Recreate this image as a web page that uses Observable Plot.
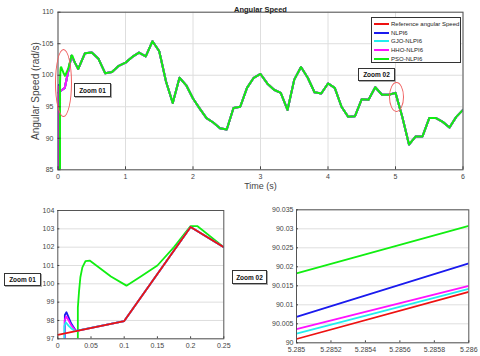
<!DOCTYPE html>
<html>
<head>
<meta charset="utf-8">
<script src="https://cdn.jsdelivr.net/npm/d3@7"></script>
<script src="https://cdn.jsdelivr.net/npm/@observablehq/plot@0.6"></script>
<style>
  body { margin: 0; background: #fff; }
  #c { position: relative; width: 480px; height: 356px; background: #fff; overflow: hidden; font-family: "Liberation Sans", Arial, sans-serif; }
  .box { position: absolute; background: #fff; border: 1px solid #333; box-shadow: 1px 1px 0 #aaa; font-weight: bold; font-size: 6.5px; color: #111; display: flex; align-items: center; justify-content: center; box-sizing: border-box; }
  .ell { position: absolute; border: 1px solid #f06060; border-radius: 50%; box-sizing: border-box; }
  #legend { position: absolute; left: 371px; top: 17px; width: 90px; height: 46px; border: 1px solid #333; background: #fff; box-sizing: border-box; padding-top: 2px; }
  #legend .row { display: flex; align-items: center; height: 8.6px; font-size: 6px; color: #222; }
  #legend .sw { width: 15px; height: 2px; margin: 0 2px 0 2px; }
</style>
</head>
<body>
<div id="c"></div>
<script>
// ---------- data ----------
const seriesNames = ["Reference angular Speed", "NLPI6", "GJO-NLPI6", "HHO-NLPI6", "PSO-NLPI6"];
const seriesColors = ["#ee1111", "#1a1aee", "#22eeee", "#ff11ff", "#11ee11"];

// common trajectory (all series coincide after 0.25 s)
const mainTime = [0.3,0.4,0.5,0.6,0.7,0.8,0.9,1.0,1.1,1.2,1.3,1.4,1.5,1.6,1.7,1.8,1.9,2.0,2.1,2.2,2.3,2.4,2.5,2.6,2.7,2.8,2.9,3.0,3.1,3.2,3.3,3.4,3.5,3.6,3.7,3.8,3.9,4.0,4.1,4.2,4.3,4.4,4.5,4.6,4.7,4.8,4.9,5.0,5.1,5.2,5.3,5.4,5.5,5.6,5.7,5.8,5.9,6.0];
const mainSpeed = [101.0,103.5,103.6,102.6,100.3,100.5,101.5,102.0,102.9,103.6,103.0,105.4,103.8,99.0,95.6,99.6,98.4,96.3,94.7,93.2,92.5,91.6,91.4,94.8,95.0,98.0,99.6,100.2,98.7,97.7,97.2,94.5,99.3,101.3,99.6,97.3,97.1,98.7,98.0,95.0,93.4,93.5,96.2,96.1,98.1,96.9,96.9,97.2,93.4,89.0,90.3,90.3,93.2,93.2,92.6,91.7,93.4,94.5];

// early transient (0 – 0.25 s)
const refEarlyT = [0, 0.1, 0.2, 0.25];
const refEarlyV = [97.22, 97.97, 103.1, 102.0];
const nlpiEarlyT = [0.0105, 0.0106, 0.013, 0.016, 0.02, 0.0275, 0.1, 0.2, 0.25];
const nlpiEarlyV = [80, 98.3, 98.45, 98.2, 97.85, 97.43, 97.97, 103.1, 102.0];
const gjoEarlyT = [0.0098, 0.0099, 0.012, 0.016, 0.02, 0.026, 0.1, 0.2, 0.25];
const gjoEarlyV = [80, 97.7, 97.9, 97.72, 97.58, 97.42, 97.97, 103.1, 102.0];
const hhoEarlyT = [0.0102, 0.0103, 0.0125, 0.016, 0.02, 0.027, 0.1, 0.2, 0.25];
const hhoEarlyV = [80, 98.0, 98.22, 98.02, 97.75, 97.42, 97.97, 103.1, 102.0];
const psoEarlyT = [0.0301, 0.0302, 0.032, 0.034, 0.037, 0.0417, 0.048, 0.06, 0.08, 0.1034, 0.125, 0.15, 0.175, 0.2, 0.21, 0.25];
const psoEarlyV = [80, 98.7, 99.6, 100.36, 100.9, 101.24, 101.27, 100.95, 100.4, 99.9, 100.4, 101.0, 102.0, 103.15, 103.15, 102.0];

// zoom 02 window (5.285 – 5.286 s)
const zoom2T = [5.285, 5.286];
const zoom2Ref = [90.0010, 90.0134];
const zoom2Nlpi = [90.0068, 90.0209];
const zoom2Gjo = [90.0024, 90.0142];
const zoom2Hho = [90.0036, 90.0150];
const zoom2Pso = [90.0183, 90.0308];

// tick values
const topXTicks = [0, 1, 2, 3, 4, 5, 6];
const topYTicks = [85, 90, 95, 100, 105, 110];
const z1XTicks = [0, 0.05, 0.1, 0.15, 0.2, 0.25];
const z1YTicks = [97, 98, 99, 100, 101, 102, 103, 104];
const z2XTicks = [5.285, 5.2852, 5.2854, 5.2856, 5.2858, 5.286];
const z2YTicks = [90, 90.005, 90.01, 90.015, 90.02, 90.025, 90.03, 90.035];
const z2XLabels = ["5.285", "5.2852", "5.2854", "5.2856", "5.2858", "5.286"];
const z2YLabels = ["90", "90.005", "90.01", "90.015", "90.02", "90.025", "90.03", "90.035"];

const titleText = "Angular Speed";
const yLabelText = "Angular Speed (rad/s)";
const xLabelText = "Time (s)";

// ---------- build rows ----------
function rows(ts, vs) { return ts.map((t, i) => ({t, v: vs[i]})); }
const early = [
  rows(refEarlyT, refEarlyV),
  rows(nlpiEarlyT, nlpiEarlyV),
  rows(gjoEarlyT, gjoEarlyV),
  rows(hhoEarlyT, hhoEarlyV),
  rows(psoEarlyT, psoEarlyV)
];
const mainRows = rows(mainTime, mainSpeed);
const full = early.map(e => e.concat(mainRows));
const z2 = [zoom2Ref, zoom2Nlpi, zoom2Gjo, zoom2Hho, zoom2Pso].map(v => rows(zoom2T, v));

const FONT = "'Liberation Sans', Arial, sans-serif";
const svgStyle = {position: "absolute", left: "0px", top: "0px", background: "transparent", overflow: "visible", fontFamily: FONT};
const container = document.getElementById("c");
const W = 480, H = 356;

// ---------- top panel ----------
const topOrder = [0, 1, 2, 3, 4];
const mainPlot = Plot.plot({
  width: W, height: H,
  marginLeft: 57.5, marginRight: 17.5, marginTop: 11.7, marginBottom: H - 169.3,
  style: svgStyle,
  x: {domain: [0, 6]},
  y: {domain: [85, 110]},
  marks: [
    Plot.gridX(topXTicks, {stroke: "#dedede", strokeOpacity: 1}),
    Plot.gridY(topYTicks, {stroke: "#dedede", strokeOpacity: 1}),
    ...topOrder.map(i => Plot.line(full[i], {x: "t", y: "v", stroke: seriesColors[i], strokeWidth: 2, clip: true})),
    Plot.frame({stroke: "#555"}),
    Plot.axisX(topXTicks, {label: null, tickSize: -3, tickPadding: 7, fontSize: 7, color: "#444", tickFormat: d => String(d)}),
    Plot.axisY(topYTicks, {label: null, tickSize: -3, tickPadding: 7.5, fontSize: 7, color: "#444", tickFormat: d => String(d)}),
    Plot.text([titleText], {frameAnchor: "top", dy: -6, fontWeight: "bold", fontSize: 7.5, fill: "#222"}),
    Plot.text([yLabelText], {frameAnchor: "left", textAnchor: "middle", dx: -22, rotate: -90, fontSize: 10, fill: "#444"}),
    Plot.text([xLabelText], {frameAnchor: "bottom", dy: 19, fontSize: 9, fill: "#444"})
  ]
});
container.appendChild(mainPlot);

// ---------- zoom 01 ----------
const z1Order = [4, 1, 3, 2, 0];
const zp1 = Plot.plot({
  width: W, height: H,
  marginLeft: 57.3, marginRight: W - 223.3, marginTop: 210, marginBottom: H - 338.3,
  style: svgStyle,
  x: {domain: [0, 0.25]},
  y: {domain: [97, 104]},
  marks: [
    Plot.gridY(z1YTicks, {stroke: "#dedede", strokeOpacity: 1}),
    ...z1Order.map(i => Plot.line(early[i], {x: "t", y: "v", stroke: seriesColors[i], strokeWidth: 1.8, clip: true})),
    Plot.frame({stroke: "#555"}),
    Plot.axisX(z1XTicks, {label: null, tickSize: -2, tickPadding: 6, fontSize: 7, color: "#444", tickFormat: d => String(d)}),
    Plot.axisY(z1YTicks, {label: null, tickSize: -2, tickPadding: 5.5, fontSize: 7, color: "#444", tickFormat: d => String(d)})
  ]
});
container.appendChild(zp1);

// ---------- zoom 02 ----------
const zp2 = Plot.plot({
  width: W, height: H,
  marginLeft: 296, marginRight: W - 468.3, marginTop: 209.3, marginBottom: H - 342.3,
  style: svgStyle,
  x: {domain: [5.285, 5.286]},
  y: {domain: [90, 90.035]},
  marks: [
    Plot.gridY(z2YTicks, {stroke: "#dedede", strokeOpacity: 1}),
    ...[0, 2, 3, 1, 4].map(i => Plot.line(z2[i], {x: "t", y: "v", stroke: seriesColors[i], strokeWidth: 1.8, clip: true})),
    Plot.frame({stroke: "#555"}),
    Plot.axisX(z2XTicks, {label: null, tickSize: -2, tickPadding: 6, fontSize: 7, color: "#444", tickFormat: (d, i) => z2XLabels[i]}),
    Plot.axisY(z2YTicks, {label: null, tickSize: -2, tickPadding: 5, fontSize: 7, color: "#444", tickFormat: (d, i) => z2YLabels[i]})
  ]
});
container.appendChild(zp2);

// ---------- annotations ----------
function addDiv(cls, css, html) {
  const d = document.createElement("div");
  d.className = cls;
  Object.assign(d.style, css);
  if (html) d.textContent = html;
  container.appendChild(d);
  return d;
}
addDiv("ell", {left: "55px", top: "49px", width: "17px", height: "68px"});
addDiv("ell", {left: "389px", top: "82px", width: "15px", height: "30px"});
addDiv("box", {left: "74px", top: "83px", width: "37px", height: "14px"}, "Zoom 01");
addDiv("box", {left: "358px", top: "68px", width: "37px", height: "13px"}, "Zoom 02");
addDiv("box", {left: "4px", top: "273px", width: "37px", height: "13px"}, "Zoom 01");
addDiv("box", {left: "232px", top: "270px", width: "35px", height: "14px"}, "Zoom 02");

// legend
const lg = document.createElement("div");
lg.id = "legend";
seriesNames.forEach((n, i) => {
  const r = document.createElement("div");
  r.className = "row";
  const s = document.createElement("div");
  s.className = "sw";
  s.style.background = seriesColors[i];
  const t = document.createElement("span");
  t.textContent = n;
  r.appendChild(s); r.appendChild(t);
  lg.appendChild(r);
});
container.appendChild(lg);
</script>
</body>
</html>
